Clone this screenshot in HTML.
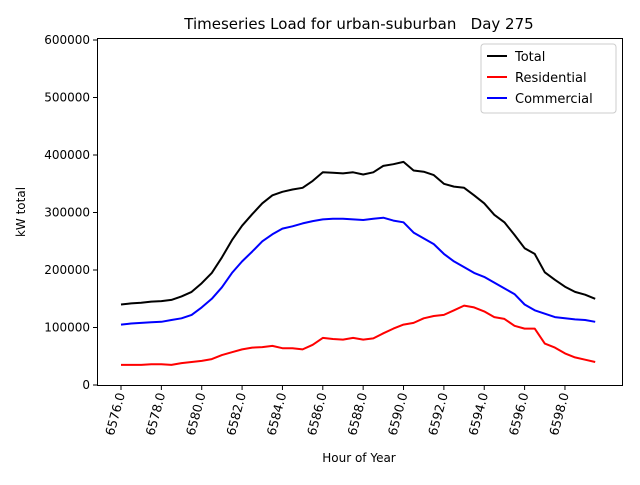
<!DOCTYPE html>
<html><head><meta charset="utf-8"><style>
body{margin:0;background:#fff}
svg text{font-family:"DejaVu Sans","Liberation Sans",sans-serif;fill:#000}
</style></head><body>
<svg id="chart" width="640" height="480" xmlns="http://www.w3.org/2000/svg">
<rect width="640" height="480" fill="#fff"/>
<text x="359" y="29" font-size="15" text-anchor="middle" xml:space="preserve">Timeseries Load for urban-suburban   Day 275</text>
<g id="grid"></g>
<g id="series"></g>
<rect x="97.5" y="38.5" width="525" height="347" fill="none" stroke="#000" stroke-width="1"/>
<text x="359" y="462" font-size="12" text-anchor="middle">Hour of Year</text>
<text transform="translate(25,212) rotate(-90)" font-size="12" text-anchor="middle">kW total</text>
<g>
<rect x="481" y="44" width="135" height="69" fill="#fff" stroke="#ccc" rx="3"/>
<line x1="487" y1="56" x2="507" y2="56" stroke="#000" stroke-width="2"/>
<text x="515" y="61" font-size="13">Total</text>
<line x1="487" y1="77" x2="507" y2="77" stroke="#f00" stroke-width="2"/>
<text x="515" y="82" font-size="13">Residential</text>
<line x1="487" y1="98" x2="507" y2="98" stroke="#00f" stroke-width="2"/>
<text x="515" y="103" font-size="13">Commercial</text>
</g>
</svg>
<script>
const xTicks=[6576,6578,6580,6582,6584,6586,6588,6590,6592,6594,6596,6598];
const yTicks=[0,100000,200000,300000,400000,500000,600000];
const startHour=6576, stepHours=0.5;
const total=[140,142,143,145,146,148,154,162,177,195,222,252,277,297,316,330,336,340,343,355,370,369,368,370,366,370,381,384,388,373,371,365,350,345,343,330,316,296,283,261,238,228,196,183,171,162,157,150];
const residential=[35,35,35,36,36,35,38,40,42,45,52,57,62,65,66,68,64,64,62,70,82,80,79,82,79,81,90,98,105,108,116,120,122,130,138,135,128,118,115,103,98,98,72,65,55,48,44,40];
const commercial=[105,107,108,109,110,113,116,122,135,150,170,195,215,232,250,262,272,276,281,285,288,289,289,288,287,289,291,286,283,265,255,245,228,215,205,195,188,178,168,158,140,130,124,118,116,114,113,110];
const X=h=>121+(h-6576)*20.18;
const Y=v=>385-v/100000*57.5;
const NS="http://www.w3.org/2000/svg";
const g=document.getElementById('grid');
yTicks.forEach(v=>{
  const y=Y(v);
  const l=document.createElementNS(NS,'line');
  l.setAttribute('x1',93);l.setAttribute('x2',97.5);l.setAttribute('y1',y);l.setAttribute('y2',y);l.setAttribute('stroke','#000');
  
  
  g.appendChild(l);
  const t=document.createElementNS(NS,'text');
  t.setAttribute('x',90);t.setAttribute('y',y+4);t.setAttribute('font-size','12');t.setAttribute('text-anchor','end');
  t.textContent=String(v);
  
  
  g.appendChild(t);
});
xTicks.forEach(h=>{
  const x=X(h);
  const l=document.createElementNS(NS,'line');
  l.setAttribute('x1',x);l.setAttribute('x2',x);l.setAttribute('y1',385.5);l.setAttribute('y2',390);l.setAttribute('stroke','#000');
  
  
  g.appendChild(l);
  const t=document.createElementNS(NS,'text');
  t.setAttribute('transform',`translate(${x+4},394) rotate(-75)`);t.setAttribute('font-size','12.5');t.setAttribute('text-anchor','end');
  t.textContent=h.toFixed(1);
  
  
  g.appendChild(t);
});
const sg=document.getElementById('series');
function draw(arr,color,name){
  const pts=arr.map((v,i)=>X(startHour+i*stepHours).toFixed(1)+','+Y(v*1000).toFixed(1)).join(' ');
  const p=document.createElementNS(NS,'polyline');
  p.setAttribute('points',pts);p.setAttribute('fill','none');p.setAttribute('stroke',color);p.setAttribute('stroke-width','2');p.setAttribute('stroke-linejoin','round');
  
  
  sg.appendChild(p);
}
draw(total,'#000','total-line');
draw(residential,'#f00','residential-line');
draw(commercial,'#00f','commercial-line');
</script>
</body></html>
